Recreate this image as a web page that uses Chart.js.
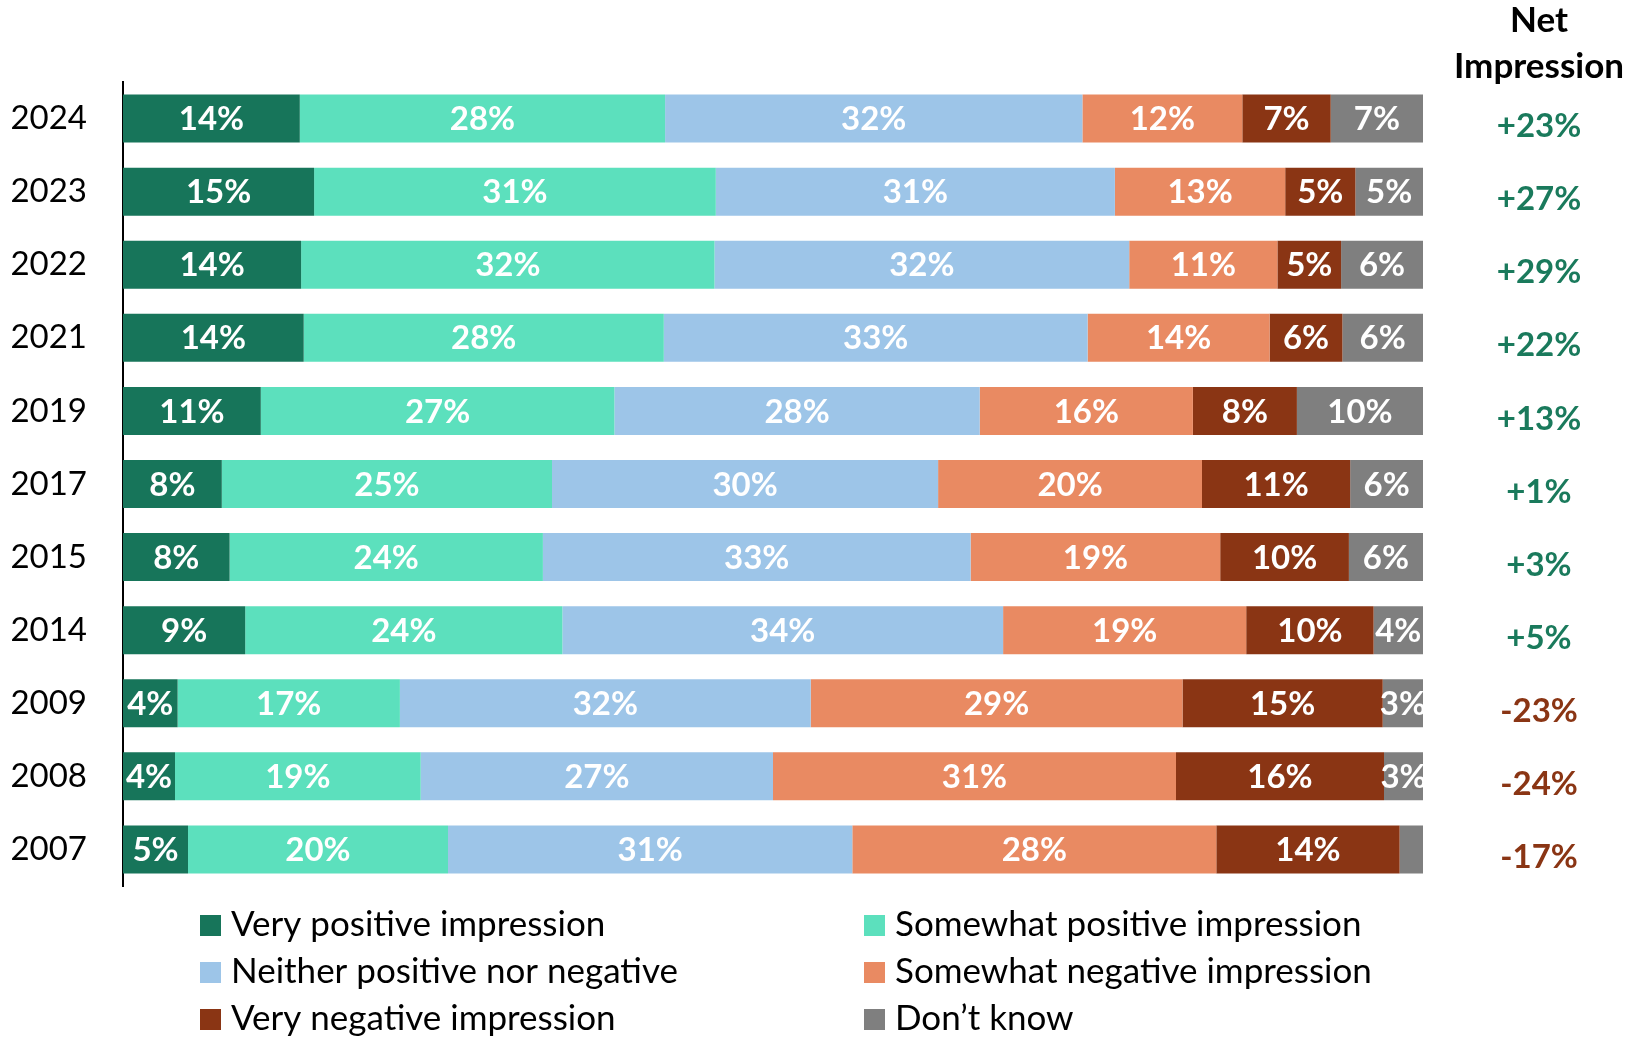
<!DOCTYPE html>
<html>
<head>
<meta charset="utf-8">
<script src="https://cdn.jsdelivr.net/npm/chart.js@4.4.1/dist/chart.umd.min.js"></script>
<style>html,body{margin:0;padding:0;background:#fff;}canvas{display:block;}</style>
</head>
<body>
<canvas id="c" width="1629" height="1038"></canvas>
<script>
const years = ['2024','2023','2022','2021','2019','2017','2015','2014','2009','2008','2007'];
const seriesNames = ['Very positive impression','Somewhat positive impression','Neither positive nor negative','Somewhat negative impression','Very negative impression','Don\u2019t know'];
const veryPositive     = [13.6,14.7,13.7,13.9,10.6, 7.6, 8.2, 9.4, 4.2, 4.0, 5.0];
const somewhatPositive = [28.1,30.9,31.8,27.7,27.2,25.4,24.1,24.4,17.1,18.9,20.0];
const neither          = [32.1,30.7,31.9,32.6,28.1,29.7,32.9,33.9,31.6,27.1,31.1];
const somewhatNegative = [12.3,13.1,11.4,14.0,16.4,20.3,19.2,18.7,28.6,31.0,28.0];
const veryNegative     = [ 6.8, 5.4, 4.9, 5.6, 8.0,11.4, 9.9, 9.8,15.4,16.0,14.1];
const dontKnow         = [ 7.1, 5.2, 6.3, 6.2, 9.7, 5.6, 5.7, 3.8, 3.1, 3.0, 1.8];
const netImpression    = [23,27,29,22,13,1,3,5,-23,-24,-17];
const colors = ['#17755A','#5CE0BD','#9DC5E8','#E98A62','#8A3514','#7F7F7F'];

const FONT = 'Lato, "Open Sans", sans-serif';
const seriesData = [veryPositive, somewhatPositive, neither, somewhatNegative, veryNegative, dontKnow];

const labelPlugin = {
  id: 'segLabels',
  afterDatasetsDraw(chart) {
    const ctx = chart.ctx, a = chart.chartArea;
    ctx.save();
    ctx.beginPath(); ctx.rect(a.left, a.top, a.right - a.left, a.bottom - a.top); ctx.clip();
    ctx.fillStyle = '#fff';
    ctx.font = 'bold 33px ' + FONT;
    ctx.textAlign = 'center'; ctx.textBaseline = 'middle';
    chart.data.datasets.forEach((ds, di) => {
      const meta = chart.getDatasetMeta(di);
      meta.data.forEach((el, i) => {
        const v = ds.data[i];
        if (v < 2.5) return;
        const p = el.getProps(['x','base','y'], true);
        ctx.fillText(Math.round(v) + '%', (p.x + p.base) / 2, p.y + 1);
      });
    });
    ctx.restore();
  }
};

const extrasPlugin = {
  id: 'extras',
  afterDraw(chart) {
    const ctx = chart.ctx, ys = chart.scales.y;
    ctx.save();
    ctx.textAlign = 'center'; ctx.textBaseline = 'middle';
    ctx.fillStyle = '#000';
    ctx.font = 'bold 35px ' + FONT;
    ctx.fillText('Net', 1539, 21);
    ctx.fillText('Impression', 1539, 67);
    ctx.font = 'bold 33px ' + FONT;
    netImpression.forEach((v, i) => {
      ctx.fillStyle = v >= 0 ? '#1A7A5C' : '#8A3514';
      ctx.fillText((v > 0 ? '+' : '') + v + '%', 1539, ys.getPixelForValue(i) + 8);
    });
    // legend
    const cols = [200, 864], rows = [925, 972, 1019];
    ctx.textAlign = 'left';
    ctx.font = '35px ' + FONT;
    seriesNames.forEach((n, i) => {
      const cx = cols[i % 2], cy = rows[Math.floor(i / 2)];
      ctx.fillStyle = colors[i];
      ctx.fillRect(cx, cy - 10, 21, 21);
      ctx.fillStyle = '#000';
      ctx.fillText(n, cx + 31, cy);
    });
    ctx.restore();
  }
};

new Chart(document.getElementById('c'), {
  type: 'bar',
  data: {
    labels: years,
    datasets: seriesNames.map((n, i) => ({
      label: n, data: seriesData[i], backgroundColor: colors[i],
      borderWidth: 0, barPercentage: 0.657, categoryPercentage: 1
    }))
  },
  options: {
    indexAxis: 'y', responsive: false, animation: false,
    layout: { padding: { top: 82, right: 206, bottom: 152, left: 0 } },
    plugins: { legend: { display: false }, tooltip: { enabled: false } },
    scales: {
      x: { stacked: true, min: 0, max: 100, display: false },
      y: {
        stacked: true,
        grid: { display: false, drawTicks: false },
        border: { display: true, color: '#000', width: 2 },
        ticks: { color: '#000', font: { family: FONT, size: 33 }, padding: 36 },
        afterFit(s) { s.width = 123; }
      }
    }
  },
  plugins: [labelPlugin, extrasPlugin]
});
</script>
</body>
</html>
